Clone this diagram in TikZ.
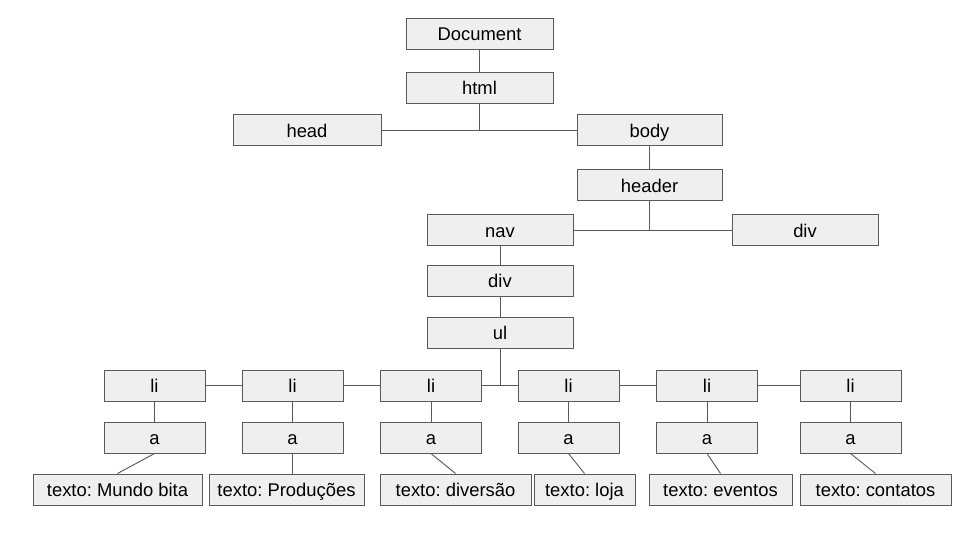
\documentclass[tikz,border=0pt]{standalone}
\usepackage{fontspec}
\setmainfont{Liberation Sans}
\usepackage{tikz}

\definecolor{boxfill}{RGB}{239,239,239}
\definecolor{boxline}{RGB}{89,89,89}

\begin{document}
\frenchspacing
\begin{tikzpicture}[x=0.75pt,y=-0.75pt,
	tag/.style={draw=boxline,fill=boxfill,line width=0.75pt,minimum height=23.25pt,inner sep=0pt,text height=12pt,text depth=1pt,font=\fontsize{13.8}{16}\selectfont},
	link/.style={boxline,line width=0.7pt}]
		%\draw [help lines] (0,0) grid (960,540);
		\useasboundingbox (0,0) rectangle (960,540);
		\node [tag,minimum width=110.25pt] (doc) at (479.5,33.5) {Document};
		\node [tag,minimum width=110.25pt] (html) at (479.5,87.5) {html};
		\node [tag,minimum width=111pt] (head) at (307,130) {head};
		\node [tag,minimum width=108.75pt] (body) at (649.5,130) {body};
		\node [tag,minimum width=108.75pt] (header) at (649.5,185) {header};
		\node [tag,minimum width=109.5pt] (nav) at (500,230) {nav};
		\node [tag,minimum width=109.5pt] (divr) at (805,230) {div};
		\node [tag,minimum width=109.5pt] (divn) at (500,280.5) {div};
		\node [tag,minimum width=109.5pt] (ul) at (500,332.5) {ul};
		
		\node [tag,minimum width=75.75pt] (li1) at (154.5,385.5) {li};
		\node [tag,minimum width=75.75pt] (li2) at (292.5,385.5) {li};
		\node [tag,minimum width=75.75pt] (li3) at (431,385.5) {li};
		\node [tag,minimum width=75.75pt] (li4) at (568.5,385.5) {li};
		\node [tag,minimum width=75.75pt] (li5) at (707,385.5) {li};
		\node [tag,minimum width=75.75pt] (li6) at (850.5,385.5) {li};
		
		\node [tag,minimum width=75.75pt] (a1) at (154.5,437.5) {a};
		\node [tag,minimum width=75.75pt] (a2) at (292.5,437.5) {a};
		\node [tag,minimum width=75.75pt] (a3) at (431,437.5) {a};
		\node [tag,minimum width=75.75pt] (a4) at (568.5,437.5) {a};
		\node [tag,minimum width=75.75pt] (a5) at (707,437.5) {a};
		\node [tag,minimum width=75.75pt] (a6) at (850.5,437.5) {a};
		
		\node [tag,minimum width=126.75pt] (t1) at (117.5,489.5) {texto: Mundo bita};
		\node [tag,minimum width=116.25pt] (t2) at (286.5,489.5) {texto: Produções};
		\node [tag,minimum width=113.25pt] (t3) at (455.5,489.5) {texto: diversão};
		\node [tag,minimum width=75.75pt] (t4) at (584.5,489.5) {texto: loja};
		\node [tag,minimum width=107.25pt] (t5) at (720.5,489.5) {texto: eventos};
		\node [tag,minimum width=113.25pt] (t6) at (875.5,489.5) {texto: contatos};
		
		% upper part of the tree
		\draw [link] (doc) -- (html);
		\draw [link] (html.south) -- (html.south |- head.east);
		\draw [link] (head) -- (body);
		\draw [link] (body) -- (header);
		\draw [link] (header.south) -- (header.south |- nav.east);
		\draw [link] (nav) -- (divr);
		\draw [link] (nav) -- (divn);
		\draw [link] (divn) -- (ul);
		
		% the list
		\draw [link] (ul.south) -- (ul.south |- li3.east);
		\draw [link] (li1) -- (li2);
		\draw [link] (li2) -- (li3);
		\draw [link] (li3) -- (li4);
		\draw [link] (li4) -- (li5);
		\draw [link] (li5) -- (li6);
		\foreach \i in {1,...,6}
			\draw [link] (li\i) -- (a\i);
		\draw [link] (a1.south) -- (t1.north);
		\draw [link] (a2.south) -- (a2.south |- t2.north);
		\draw [link] (a3.south) -- (t3.north);
		\draw [link] (a4.south) -- (t4.north);
		\draw [link] (a5.south) -- (t5.north);
		\draw [link] (a6.south) -- (t6.north);
	\end{tikzpicture}
\end{document}
